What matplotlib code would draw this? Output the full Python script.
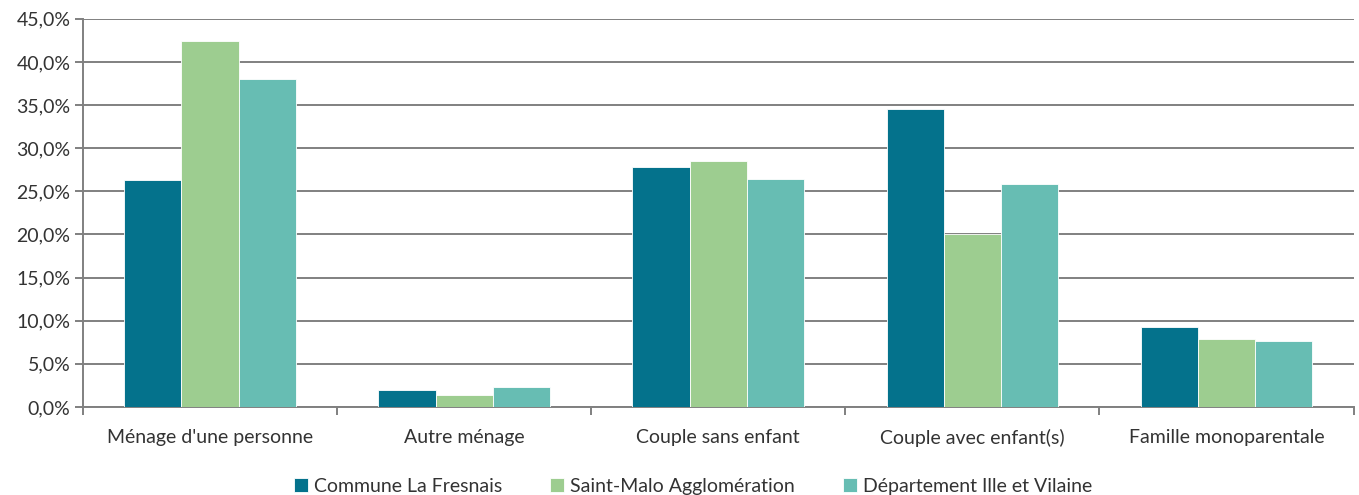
import matplotlib
matplotlib.use("Agg")
import matplotlib.pyplot as plt
import numpy as np
from matplotlib.ticker import FuncFormatter, FixedLocator

categories = ["Ménage d'une personne", "Autre ménage", "Couple sans enfant",
              "Couple avec enfant(s)", "Famille monoparentale"]
series_names = ["Commune La Fresnais", "Saint-Malo Agglomération", "Département Ille et Vilaine"]
commune = [26.3, 2.0, 27.8, 34.5, 9.3]
agglo = [42.4, 1.4, 28.5, 20.0, 7.9]
departement = [38.0, 2.3, 26.4, 25.8, 7.6]
colors = ["#04728C", "#9DCD90", "#67BDB3"]

plt.rcParams['font.family'] = ['Lato', 'DejaVu Sans']

fig = plt.figure(figsize=(13.59, 4.95), dpi=100)
ax = fig.add_axes([0.061, 0.178, 0.935, 0.784])

x = np.arange(len(categories))
w = 0.225
for i, (vals, c, name) in enumerate(zip([commune, agglo, departement], colors, series_names)):
    ax.bar(x + (i - 1) * w, vals, width=w, color=c, label=name,
           edgecolor="white", linewidth=0.6, zorder=3)

ax.set_xlim(-0.5, len(categories) - 0.5)
ax.set_ylim(0, 45)
ax.yaxis.set_major_locator(FixedLocator(np.arange(0, 46, 5)))
ax.yaxis.set_major_formatter(FuncFormatter(lambda v, p: f"{v:.1f}%".replace(".", ",")))
ax.grid(axis='y', color="#808080", linewidth=1.4, zorder=0)
ax.set_axisbelow(True)

ax.set_xticks(x)
ax.set_xticklabels(categories, fontsize=14, color="#333333")
ax.set_xticks(np.arange(-0.5, len(categories)), minor=True)
ax.tick_params(axis='x', which='major', length=0, pad=16)
ax.tick_params(axis='x', which='minor', length=6, width=1.4, color="#808080")
ax.tick_params(axis='y', length=6, width=1.4, color="#808080", labelsize=14, labelcolor="#333333", pad=3)

for s in ["top", "right"]:
    ax.spines[s].set_visible(False)
for s in ["left", "bottom"]:
    ax.spines[s].set_color("#808080")
    ax.spines[s].set_linewidth(1.4)

leg = fig.legend(loc="lower center", bbox_to_anchor=(0.51, -0.035), ncol=3, frameon=False,
                 fontsize=14, handlelength=0.7, handleheight=0.7, handletextpad=0.3,
                 columnspacing=2.5)
for t in leg.get_texts():
    t.set_color("#333333")

fig.savefig("out.png", dpi=100)
